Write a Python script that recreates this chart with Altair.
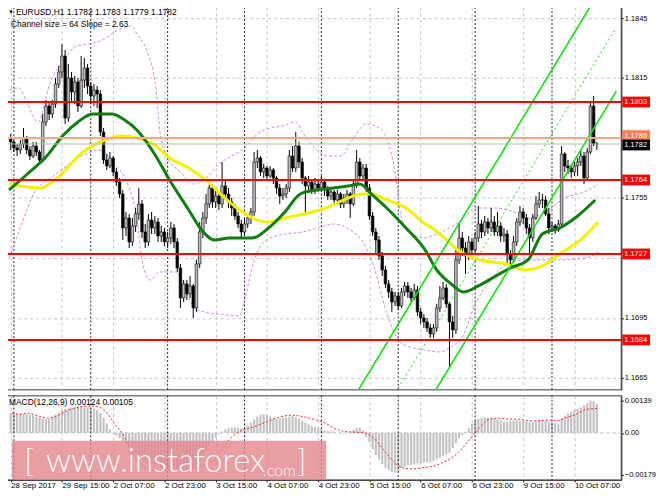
import altair as alt
import pandas as pd

FONT = "Liberation Sans"
GRID = "#c4c4c4"

# ---------------- data ----------------
hours = list(range(-1, 183))  # hourly bars, 0 = 29 Sep 00:00 (weekend skipped)
open_first = 11785
close_pts = [11783, 11780, 11779, 11782, 11785, 11779, 11776, 11781, 11778, 11774,
             11793, 11801, 11797, 11802, 11812, 11818, 11826, 11795, 11815, 11808,
             11813, 11801, 11814, 11820, 11811, 11806, 11809, 11807, 11788, 11774,
             11771, 11775, 11768, 11763, 11757, 11740, 11745, 11733, 11741, 11747,
             11752, 11738, 11733, 11744, 11740, 11743, 11736, 11738, 11733, 11735,
             11740, 11733, 11720, 11705, 11712, 11707, 11711, 11700, 11722, 11738,
             11745, 11752, 11760, 11753, 11756, 11752, 11761, 11757, 11753, 11750,
             11746, 11742, 11738, 11742, 11745, 11748, 11773, 11775, 11768, 11770,
             11766, 11769, 11765, 11760, 11756, 11757, 11760, 11776, 11770, 11781,
             11773, 11765, 11761, 11763, 11759, 11762, 11760, 11763, 11759, 11756,
             11758, 11754, 11757, 11752, 11755, 11757, 11752, 11762, 11773, 11766,
             11770, 11760, 11746, 11738, 11734, 11726, 11719, 11712, 11708, 11703,
             11706, 11701, 11708, 11711, 11708, 11705, 11709, 11698, 11695, 11693,
             11690, 11687, 11690, 11700, 11705, 11710, 11702, 11693, 11689, 11724,
             11735, 11730, 11726, 11733, 11729, 11735, 11742, 11738, 11743, 11740,
             11743, 11738, 11741, 11736, 11737, 11727, 11724, 11733, 11743, 11748,
             11745, 11740, 11735, 11745, 11752, 11754, 11754, 11747, 11740, 11741,
             11739, 11742, 11777, 11771, 11770, 11768, 11771, 11773, 11776, 11765,
             11778, 11801, 11782, 11782]
high_pts = [11787, 11784, 11782, 11784, 11790, 11786, 11781, 11783, 11783, 11779,
            11797, 11804, 11803, 11804, 11815, 11821, 11832, 11829, 11822, 11818,
            11816, 11815, 11826, 11825, 11822, 11813, 11812, 11811, 11809, 11790,
            11777, 11778, 11776, 11770, 11765, 11759, 11748, 11747, 11745, 11750,
            11760, 11754, 11742, 11747, 11748, 11746, 11745, 11741, 11740, 11738,
            11743, 11742, 11735, 11722, 11714, 11714, 11716, 11712, 11724, 11743,
            11748, 11757, 11764, 11762, 11759, 11758, 11773, 11764, 11760, 11755,
            11752, 11748, 11744, 11745, 11747, 11750, 11778, 11779, 11776, 11772,
            11771, 11771, 11770, 11766, 11762, 11760, 11762, 11779, 11781, 11788,
            11783, 11775, 11766, 11766, 11764, 11765, 11764, 11766, 11764, 11761,
            11760, 11759, 11759, 11758, 11757, 11759, 11758, 11764, 11779, 11775,
            11772, 11772, 11762, 11748, 11740, 11736, 11728, 11721, 11714, 11710,
            11708, 11708, 11710, 11713, 11713, 11710, 11712, 11711, 11700, 11697,
            11695, 11692, 11692, 11702, 11711, 11713, 11712, 11703, 11696, 11730,
            11742, 11738, 11733, 11736, 11735, 11738, 11751, 11744, 11746, 11745,
            11750, 11746, 11748, 11743, 11740, 11739, 11729, 11736, 11745, 11751,
            11750, 11747, 11742, 11747, 11756, 11758, 11757, 11756, 11750, 11743,
            11742, 11744, 11781, 11778, 11774, 11772, 11773, 11775, 11779, 11778,
            11780, 11803, 11806, 11783]
low_pts = [11779, 11778, 11776, 11777, 11780, 11777, 11774, 11775, 11776, 11772,
           11773, 11791, 11794, 11795, 11800, 11810, 11815, 11792, 11793, 11803,
           11802, 11798, 11800, 11810, 11807, 11802, 11801, 11800, 11786, 11772,
           11769, 11770, 11766, 11761, 11755, 11734, 11736, 11730, 11731, 11738,
           11744, 11735, 11730, 11731, 11737, 11737, 11733, 11733, 11731, 11730,
           11732, 11730, 11718, 11700, 11703, 11704, 11705, 11695, 11698, 11720,
           11735, 11742, 11750, 11750, 11750, 11749, 11750, 11754, 11750, 11746,
           11744, 11740, 11735, 11736, 11740, 11742, 11746, 11770, 11766, 11765,
           11764, 11765, 11762, 11757, 11752, 11754, 11755, 11758, 11768, 11768,
           11770, 11762, 11747, 11758, 11757, 11757, 11758, 11758, 11756, 11754,
           11754, 11751, 11752, 11750, 11750, 11752, 11745, 11751, 11760, 11764,
           11764, 11758, 11744, 11736, 11727, 11724, 11716, 11710, 11705, 11698,
           11701, 11699, 11700, 11706, 11705, 11703, 11704, 11696, 11692, 11690,
           11688, 11685, 11685, 11688, 11698, 11704, 11700, 11670, 11685, 11687,
           11722, 11726, 11717, 11724, 11727, 11727, 11733, 11735, 11736, 11737,
           11738, 11736, 11736, 11733, 11733, 11722, 11721, 11723, 11731, 11741,
           11742, 11737, 11727, 11733, 11744, 11750, 11750, 11746, 11737, 11738,
           11737, 11738, 11741, 11768, 11767, 11765, 11766, 11766, 11771, 11762,
           11764, 11777, 11781, 11779]

# MACD main (histogram), units of 1e-5
macd_hist = [85, 84, 83, 82, 80, 80, 78, 75, 70, 65,
             60, 58, 60, 68, 78, 88, 97,
             103, 106, 108, 110, 110, 111, 110, 108, 106, 104, 98,
             85, 65, 40, 15, -3, -12, -22,
             -35, -48, -62, -78, -92, -104, -114, -122, -128, -133, -138, -143,
             -148, -150, -152, -153, -155, -158, -160, -161, -160, -158, -150, -138, -120,
             -100, -80, -58, -38, -20, -6, 6,
             15, 20, 23, 24, 22, 20, 22, 30, 45,
             58, 70, 78, 80, 76, 70, 64, 60, 62, 64,
             66, 70, 72, 68, 60, 52, 44, 36, 30, 25, 20, 15,
             10, 8, 6, 3, 0, -2, -3, 0, 3, 12, 20, 23, 10,
             -18, -40, -70, -95, -115, -135, -150, -160, -168, -172, -165, -152,
             -145, -140, -138, -135, -132, -130, -128, -127, -126, -122, -115, -108,
             -100, -92, -85, -65, -45, -25, -10, 5, 20,
             40, 52, 60, 64, 66, 66, 65, 62, 58, 54,
             48, 46, 50, 53, 55, 53, 50, 47, 45, 46,
             50, 53, 55, 54, 50, 46, 42, 40,
             62, 72, 82, 90, 98, 104, 110, 118, 128, 139, 136, 124]

sig_h = [-0.6, 1.5, 4.5, 7.5, 10.5, 13.5, 16.5, 19.5, 22.5, 25.5, 28.5, 31.5, 34.5, 36.5,
         38.5, 41.5, 44.5, 48.5, 52.5, 56.5, 59.5, 62.5, 65.5, 68.5, 71.5, 74.5, 78.5,
         82.5, 86.5, 90.5, 94.5, 97.5, 100.5, 103.5, 106.5, 109.5, 112.5, 115.5, 118.5,
         121.5, 124.5, 127.5, 130.5, 133.5, 136.5, 139.5, 142.5, 145.5, 148.5, 151.5,
         154.5, 157.5, 160.5, 163.5, 166.5, 169.5, 172.5, 175.5, 178.5, 182]
sig_v = [85, 80, 84, 73, 63, 73, 94, 108, 115, 115, 94, 38, -18, -74,
         -116, -151, -161, -161, -161, -151, -137, -116, -60, -11, 13, 24, 45,
         66, 76, 69, 55, 40, 17, 6, 3, 0, -25, -74, -123,
         -151, -155, -150, -144, -130, -109, -74, -25, 24, 59, 63,
         59, 59, 52, 52, 55, 52, 66, 80, 100, 105]

green_h = [-1.5, 4.2, 10.3, 15.2, 20, 24.6, 30.6, 34.6, 38.4, 44.3, 48.6, 54.6, 58.6,
           62.6, 67.4, 74.4, 79.5, 84.6, 89.4, 94.5, 99.6, 104.4, 108, 111.6, 116.4,
           122.4, 128.4, 132, 136.5, 140.4, 145, 150.5, 155, 160.5, 165, 170.4, 176, 181.5]
green_p = [11759, 11767, 11776, 11786, 11793, 11797, 11797, 11794, 11789, 11776, 11764,
           11749, 11739, 11734, 11735, 11735, 11740, 11748, 11757, 11759, 11760, 11761,
           11762, 11757, 11750, 11740, 11729, 11719, 11712, 11708, 11711, 11716, 11720,
           11724, 11737, 11740, 11746, 11754]

yellow_h = [-1.5, 8.4, 13.5, 21.6, 28.5, 33.6, 38.4, 43.5, 48.6, 54.6, 60.6, 64.5, 69.6,
            74.4, 79.5, 84.6, 90.6, 97.5, 104.4, 108.6, 111.6, 116.4, 122.4, 128.4,
            130.5, 134.4, 138.6, 145.5, 153.6, 159.6, 165, 170.4, 177.6, 182.3]
yellow_p = [11762, 11760, 11765, 11778, 11784, 11786, 11785, 11782, 11775, 11770, 11763,
            11757, 11750, 11745, 11743, 11745, 11747, 11750, 11755, 11757, 11757, 11754,
            11750, 11742, 11740, 11735, 11729, 11724, 11722, 11719, 11721, 11727, 11735,
            11743]

band_up_h = [-1.5, 1.5, 4, 7.5, 11.4, 15.6, 19.5, 23.4, 27.6, 32.4, 36.6, 38.4, 41.4,
             44.4, 45.6, 48, 52, 56, 60, 64, 68, 72, 76, 80, 84, 88, 90, 94, 98, 102,
             106, 110, 114, 117, 119, 121, 124, 128, 132, 136, 140, 144, 150, 156, 160,
             166, 172, 178, 182.5]
band_up_p = [11809, 11810, 11803, 11793, 11813, 11824, 11831, 11832, 11834, 11839, 11841,
             11837, 11829, 11809, 11788, 11775, 11768, 11762, 11765, 11772, 11776, 11780,
             11787, 11790, 11791, 11793, 11788, 11780, 11776, 11776, 11785, 11792, 11790,
             11782, 11768, 11745, 11738, 11735, 11737, 11740, 11744, 11750, 11750, 11748,
             11745, 11748, 11755, 11758, 11762]

band_lo_h = [-1.5, 2, 6.5, 11.5, 15.6, 19.5, 22.5, 26.4, 31.5, 36, 38.4, 40, 42.5, 45.6,
             50.4, 56.4, 59.4, 63.6, 70.5, 71.4, 74.4, 76, 80, 85, 90, 95, 100, 104, 110,
             112.5, 116.5, 120.5, 124.5, 128, 133, 136, 140.5, 143.5, 148.4, 154, 160,
             170, 178.5, 182.5]
band_lo_p = [11725, 11740, 11758, 11765, 11770, 11775, 11777, 11779, 11772, 11760, 11745,
             11724, 11714, 11718, 11718, 11700, 11698, 11697, 11696, 11700, 11720, 11728,
             11735, 11737, 11738, 11740, 11742, 11740, 11730, 11720, 11697, 11683, 11680,
             11679, 11678, 11680, 11687, 11700, 11713, 11722, 11724, 11724, 11725, 11728]

channel_h = [100, 188.1]
channel_upper = [1.16389, 1.18724]
channel_mid = [1.16069, 1.18404]
channel_lower = [1.15749, 1.18084]

red_levels = [1.1803, 1.1764, 1.1727, 1.1684]
salmon_level = 1.1785
last_price = 1.1782
salmon_tag_pos = 1.17862
last_tag_pos = 1.17815

price_ticks = [1.1845, 1.1830, 1.1815, 1.1800, 1.1785, 1.1770, 1.1755, 1.1740,
               1.1725, 1.1710, 1.1695, 1.1680, 1.1665]
hidden_ticks = [1.1785, 1.1725]   # covered by the level tags
macd_ticks = [0.00139, 0.0, -0.00179]

label_h = [-1, 15, 31, 47, 63, 79, 95, 111, 127, 143, 159, 175]
label_txt = ['28 Sep 2017', '29 Sep 15:00', '2 Oct 07:00', '2 Oct 23:00', '3 Oct 15:00',
             '4 Oct 07:00', '4 Oct 23:00', '5 Oct 15:00', '6 Oct 07:00', '6 Oct 23:00',
             '9 Oct 15:00', '10 Oct 07:00']
grid_h = [-1 + 8 * k for k in range(24)]
day_sep_h = [0, 24, 48, 72, 96, 120, 144, 168]

header_txt = "EURUSD,H1  1.1782 1.1783 1.1779 1.1782"
channel_txt = "Channel size = 64 Slope = 2.63"
macd_txt = "MACD(12,26,9) 0.00124 0.00105"
wm_parts = ["[", "www.instaforex", ".com", "]"]
wm_h = [3.2, 10.0, 77.8, 88.4]
wm_size = [32, 33, 16, 32]
wm_box_h = [-0.6, 97.5]
wm_box_v = [-0.00034, -0.00202]

# ---------------- tables ----------------
opens = [open_first] + close_pts[:-1]
cd = pd.DataFrame({"h": hours,
                   "o": [v / 1e4 for v in opens],
                   "c": [v / 1e4 for v in close_pts],
                   "hi": [v / 1e4 for v in high_pts],
                   "lo": [v / 1e4 for v in low_pts]})
cd["hi"] = cd[["hi", "o", "c"]].max(axis=1)
cd["lo"] = cd[["lo", "o", "c"]].min(axis=1)
cd["top"] = cd[["o", "c"]].max(axis=1)
cd["bot"] = cd[["o", "c"]].min(axis=1)
cd["bull"] = cd["c"] >= cd["o"]

md = pd.DataFrame({"h": hours, "v": [v / 1e5 for v in macd_hist], "z": 0.0})
sd = pd.DataFrame({"h": sig_h, "v": [v / 1e5 for v in sig_v]})


def line_df(hs, ps):
    return pd.DataFrame({"h": hs, "p": [p / 1e4 for p in ps]})


gd = line_df(green_h, green_p)
yd = line_df(yellow_h, yellow_p)
bu = line_df(band_up_h, band_up_p)
bl = line_df(band_lo_h, band_lo_p)

chan_solid = pd.DataFrame({"h": channel_h * 2, "p": channel_upper + channel_lower,
                           "k": ["u", "u", "l", "l"]})
chan_mid = pd.DataFrame({"h": channel_h, "p": channel_mid})

lev = pd.DataFrame({"y": red_levels + [salmon_level],
                    "col": ["#ff0000"] * len(red_levels) + ["#ffa585"]})
boxes = pd.DataFrame({
    "y": red_levels + [salmon_tag_pos, last_tag_pos],
    "lab": [f"{v:.4f}" for v in red_levels] + [f"{salmon_level:.4f}", f"{last_price:.4f}"],
    "fill": ["#ff0000"] * len(red_levels) + ["#ff7d55", "#000000"],
})
boxes["y1"] = boxes["y"] + 0.00027
boxes["y2"] = boxes["y"] - 0.00027

wm = pd.DataFrame({"t": wm_parts, "h": wm_h, "s": wm_size, "v": [-0.00196] * 4})
wmb = pd.DataFrame({"h1": [wm_box_h[0]], "h2": [wm_box_h[1]],
                    "v1": [wm_box_v[0]], "v2": [wm_box_v[1]]})

W, H1, H2 = 620, 386, 85
xs = alt.Scale(domain=[-0.6, 188.1], nice=False, zero=False)
ys = alt.Scale(domain=[1.16591, 1.18504], nice=False, zero=False)
ms = alt.Scale(domain=[-0.00202, 0.00160], nice=False, zero=False)


def X(f="h"):
    return alt.X(f"{f}:Q", scale=xs, title=None)


def Y(f, s):
    return alt.Y(f"{f}:Q", scale=s, title=None)


hide_expr = " || ".join(f"abs(datum.value - {v}) < 0.00001" for v in hidden_ticks)
x_main = alt.X("h:Q", scale=xs, title=None,
               axis=alt.Axis(values=grid_h, labels=False, ticks=False, domain=False,
                             grid=True, gridDash=[3, 3], gridColor=GRID))
y_main = alt.Y("y:Q", scale=ys, title=None,
               axis=alt.Axis(orient="right", values=price_ticks,
                             labelExpr=f"({hide_expr}) ? '' : format(datum.value, '.4f')",
                             labelFont=FONT, labelFontSize=7.5, labelColor="#000000",
                             labelPadding=1, tickSize=2, tickColor="#000000",
                             domainColor="#333333", labelOverlap=False,
                             grid=True, gridDash=[3, 3], gridColor=GRID))

dummy = pd.DataFrame({"y": [1.1750], "h": [0]})
frame = alt.Chart(dummy).mark_point(opacity=0).encode(x=x_main, y=y_main)

seps = alt.Chart(pd.DataFrame({"h": day_sep_h})).mark_rule(
    color="#222222", strokeDash=[2, 2], strokeWidth=1).encode(x=X())

wicks = alt.Chart(cd).mark_rule(color="#000000", strokeWidth=1).encode(
    x=X(), y=Y("lo", ys), y2="hi:Q")
bodies = alt.Chart(cd).mark_bar(size=2.6, stroke="#000000", strokeWidth=0.6).encode(
    x=X(), y=Y("bot", ys), y2="top:Q",
    fill=alt.condition("datum.bull", alt.value("#bdbdbd"), alt.value("#000000")))

band_style = dict(color="#c88ee6", strokeDash=[3, 2], strokeWidth=1,
                  interpolate="monotone", clip=True)
band_u = alt.Chart(bu).mark_line(**band_style).encode(x=X(), y=Y("p", ys))
band_l = alt.Chart(bl).mark_line(**band_style).encode(x=X(), y=Y("p", ys))

yellow = alt.Chart(yd).mark_line(color="#f2f200", strokeWidth=3, interpolate="monotone",
                                 clip=True).encode(x=X(), y=Y("p", ys))
green = alt.Chart(gd).mark_line(color="#0f7d0f", strokeWidth=3, interpolate="monotone",
                                clip=True).encode(x=X(), y=Y("p", ys))

ch_solid = alt.Chart(chan_solid).mark_line(color="#12e012", strokeWidth=1.6, clip=True).encode(
    x=X(), y=Y("p", ys), detail="k:N")
ch_mid = alt.Chart(chan_mid).mark_line(color="#12e012", strokeWidth=1, strokeDash=[2, 3],
                                       clip=True).encode(x=X(), y=Y("p", ys))

levels = alt.Chart(lev).mark_rule(strokeWidth=2).encode(
    y=Y("y", ys), color=alt.Color("col:N", scale=None))
cur = alt.Chart(pd.DataFrame({"y": [last_price]})).mark_rule(
    color="#b8b8b8", strokeWidth=1).encode(y=Y("y", ys))

box_rect = alt.Chart(boxes).mark_rect(clip=False).encode(
    x=alt.value(W + 1), x2=alt.value(W + 29), y=Y("y1", ys), y2="y2:Q",
    fill=alt.Color("fill:N", scale=None))
box_text = alt.Chart(boxes).mark_text(align="left", baseline="middle", font=FONT,
                                      fontSize=7.5, color="#ffffff", clip=False).encode(
    x=alt.value(W + 3), y=Y("y", ys), text="lab:N")

one = pd.DataFrame({"a": [0]})
hdr_tri = alt.Chart(one).mark_text(text="\u25bc", fontSize=6, align="left", baseline="middle",
                                   color="#000000").encode(x=alt.value(1), y=alt.value(5))
hdr = alt.Chart(one).mark_text(text=header_txt, font=FONT, fontSize=8.5, align="left",
                               baseline="middle", color="#000000").encode(
    x=alt.value(9), y=alt.value(5))
hdr2 = alt.Chart(one).mark_text(text=channel_txt, font=FONT, fontSize=8.5, align="left",
                                baseline="middle", color="#000000").encode(
    x=alt.value(4), y=alt.value(17))

main = alt.layer(frame, seps, band_u, band_l, wicks, bodies, yellow, green,
                 ch_solid, ch_mid, cur, levels, box_rect, box_text,
                 hdr_tri, hdr, hdr2).properties(width=W, height=H1)

# ---------------- MACD panel ----------------
label_expr = "".join(f"datum.value == {h} ? '{t}' : " for h, t in zip(label_h, label_txt)) + "''"
x_macd = alt.X("h:Q", scale=xs, title=None,
               axis=alt.Axis(values=grid_h, labelExpr=label_expr, labelAlign="left",
                             labelFlush=False, labelOverlap=False, labelFont=FONT,
                             labelFontSize=8, labelColor="#000000", labelPadding=0,
                             tickSize=2, tickColor="#000000", domainColor="#333333",
                             grid=True, gridDash=[3, 3], gridColor=GRID))
y_macd = alt.Y("v:Q", scale=ms, title=None,
               axis=alt.Axis(orient="right", values=macd_ticks,
                             labelExpr="datum.value == 0 ? '0.00' : format(datum.value, '.5f')",
                             labelFont=FONT, labelFontSize=7.5, labelColor="#000000",
                             labelPadding=1, tickSize=2, tickColor="#000000",
                             domainColor="#333333", labelOverlap=False, grid=False))

hist = alt.Chart(md).mark_bar(size=2.2, color="#c3c3c3").encode(
    x=x_macd, y=y_macd, y2="z:Q")
zero = alt.Chart(pd.DataFrame({"v": [0.0]})).mark_rule(
    color="#c0c0c0", strokeDash=[3, 3]).encode(y=Y("v", ms))
seps2 = alt.Chart(pd.DataFrame({"h": day_sep_h})).mark_rule(
    color="#222222", strokeDash=[2, 2], strokeWidth=1).encode(x=X())
signal = alt.Chart(sd).mark_line(color="#ff2020", strokeDash=[2, 2], strokeWidth=1,
                                 interpolate="monotone", clip=True).encode(x=X(), y=Y("v", ms))

wm_rect = alt.Chart(wmb).mark_rect(color="#e4868c", opacity=0.8).encode(
    x=X("h1"), x2="h2:Q", y=Y("v1", ms), y2="v2:Q")
wm_text = alt.Chart(wm).mark_text(font="Lato", fontWeight=300, color="#ffffff", align="left",
                                  baseline="bottom", opacity=0.95).encode(
    x=X(), y=Y("v", ms), text="t:N", size=alt.Size("s:Q", scale=None, legend=None))

macd_lbl = alt.Chart(one).mark_text(text=macd_txt, font=FONT, fontSize=8.5, align="left",
                                    baseline="middle", color="#000000").encode(
    x=alt.value(2), y=alt.value(6))

macd = alt.layer(hist, zero, seps2, signal, wm_rect, wm_text,
                 macd_lbl).properties(width=W, height=H2)

chart = alt.vconcat(main, macd, spacing=2).properties(
    padding={"left": -3, "top": -5, "right": 0, "bottom": -1},
    background="#ffffff",
).configure_view(stroke="#7c7c7c", strokeWidth=1.5)

chart.save("out.html", embed_options={"renderer": "svg", "actions": False})
